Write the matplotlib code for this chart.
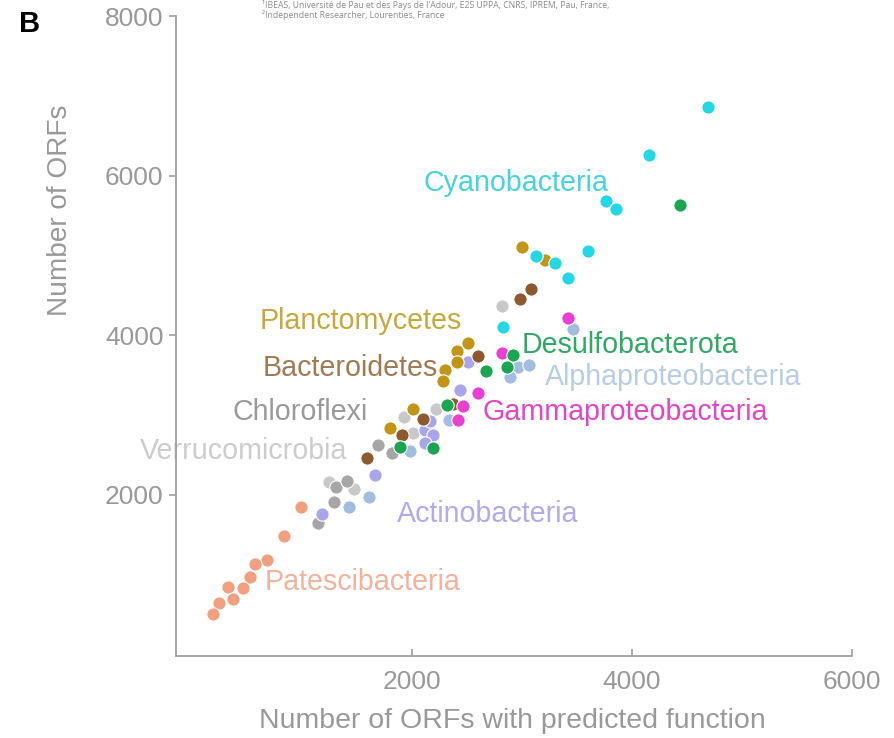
import matplotlib
matplotlib.use('Agg')
import matplotlib.pyplot as plt

plt.rcParams['font.family'] = ['Liberation Sans', 'DejaVu Sans']

# ORF counts per genome, grouped by phylum / class
cyano_x = [4690, 4150, 3760, 3850, 3600, 3130, 3300, 3420, 2830]
cyano_y = [6860, 6260, 5680, 5580, 5050, 4990, 4900, 4710, 4100]

desulfo_x = [4440, 2670, 2920, 2860, 2320, 1890, 2190]
desulfo_y = [5630, 3550, 3750, 3600, 3120, 2600, 2580]

alpha_x = [3460, 2960, 3060, 2890, 2340, 1980, 1610, 1430]
alpha_y = [4080, 3600, 3620, 3470, 2930, 2550, 1970, 1840]

gamma_x = [3420, 2820, 2600, 2460, 2420]
gamma_y = [4210, 3770, 3270, 3110, 2930]

actino_x = [2510, 2440, 2120, 2190, 2120, 1660, 1180, 2160]
actino_y = [3660, 3310, 2810, 2750, 2650, 2240, 1760, 2920]

plancto_x = [3000, 3210, 2510, 2410, 2410, 2300, 2280, 2010, 1800]
plancto_y = [5100, 4940, 3900, 3800, 3660, 3560, 3420, 3070, 2830]

bactero_x = [3080, 2980, 2600, 2370, 2100, 1910, 1590]
bactero_y = [4580, 4450, 3740, 3130, 2950, 2750, 2460]

chloro_x = [1690, 1820, 1310, 1290, 1150, 1410]
chloro_y = [2620, 2520, 2090, 1910, 1640, 2170]

verruco_x = [2820, 2220, 1930, 2010, 1470, 1250]
verruco_y = [4360, 3070, 2970, 2770, 2070, 2160]

patesci_x = [990, 840, 680, 570, 530, 460, 330, 370, 250, 190]
patesci_y = [1840, 1480, 1180, 1130, 970, 830, 840, 690, 640, 500]

# name, x, y, point colour, label colour, label x, label y
groups = [
    ('Patescibacteria', patesci_x, patesci_y, '#f0a07e', '#f2b29c', 660, 900),
    ('Verrucomicrobia', verruco_x, verruco_y, '#c8c8c8', '#cccccc', -470, 2545),
    ('Chloroflexi', chloro_x, chloro_y, '#a6a6a6', '#9a9a9a', 370, 3035),
    ('Actinobacteria', actino_x, actino_y, '#a9a5ea', '#b2aaee', 1860, 1755),
    ('Bacteroidetes', bactero_x, bactero_y, '#8b5a2e', '#a27a52', 645, 3590),
    ('Planctomycetes', plancto_x, plancto_y, '#c39514', '#c9a83a', 615, 4180),
    ('Alphaproteobacteria', alpha_x, alpha_y, '#a2bde0', '#b9cce6', 3205, 3475),
    ('Gammaproteobacteria', gamma_x, gamma_y, '#ea3fd0', '#e444c6', 2645, 3035),
    ('Desulfobacterota', desulfo_x, desulfo_y, '#1aa650', '#2fa964', 3000, 3875),
    ('Cyanobacteria', cyano_x, cyano_y, '#22d8e4', '#45d3de', 2100, 5905),
]

x_ticks = [2000, 4000, 6000]
y_ticks = [2000, 4000, 6000, 8000]

axis_grey = '#a0a0a0'

fig = plt.figure(figsize=(8.94, 7.38), dpi=100)
ax = fig.add_axes([0.1969, 0.1111, 0.7562, 0.8672])

for name, xs, ys, pc, tc, lx, ly in groups:
    ax.scatter(xs, ys, s=92, color=pc, edgecolors='white', linewidths=0.8, zorder=3)
    ax.text(lx, ly, name, color=tc, fontsize=20.6, ha='left', va='center',
            zorder=2, clip_on=False)

ax.set_xlim(-145, 6000)
ax.set_ylim(-25, 8000)
ax.set_xticks(x_ticks)
ax.set_yticks(y_ticks)

for side in ['top', 'right']:
    ax.spines[side].set_visible(False)
for side in ['left', 'bottom']:
    ax.spines[side].set_color(axis_grey)
    ax.spines[side].set_linewidth(1.3)

ax.tick_params(axis='y', direction='out', length=5, width=1.2, color=axis_grey,
               labelcolor='#999999', labelsize=19, pad=4)
ax.tick_params(axis='x', direction='in', length=5, width=1.2, color=axis_grey,
               labelcolor='#999999', labelsize=19, pad=10)

ax.set_xlabel('Number of ORFs with predicted function', fontsize=20.5,
              color='#999999')
ax.xaxis.set_label_coords(0.497, -0.081)
ax.set_ylabel('Number of ORFs', fontsize=20.2, color='#999999')
ax.yaxis.set_label_coords(-0.152, 0.697)

# panel letter and affiliation lines at the top
fig.text(19 / 894, 1 - 24 / 738, 'B', fontsize=21, fontweight='bold',
         color='black', ha='left', va='center')
fig.text(262 / 894, 1 - 5 / 738,
         "\u00b9IBEAS, Universit\u00e9 de Pau et des Pays de l'Adour, E2S UPPA, CNRS, IPREM, Pau, France,",
         fontsize=6.2, color='#8a8a8a', ha='left', va='center', family='Open Sans')
fig.text(262 / 894, 1 - 15 / 738,
         '\u00b2Independent Researcher, Lourenties, France',
         fontsize=6.2, color='#8a8a8a', ha='left', va='center', family='Open Sans')

fig.savefig('out.png', dpi=100)
